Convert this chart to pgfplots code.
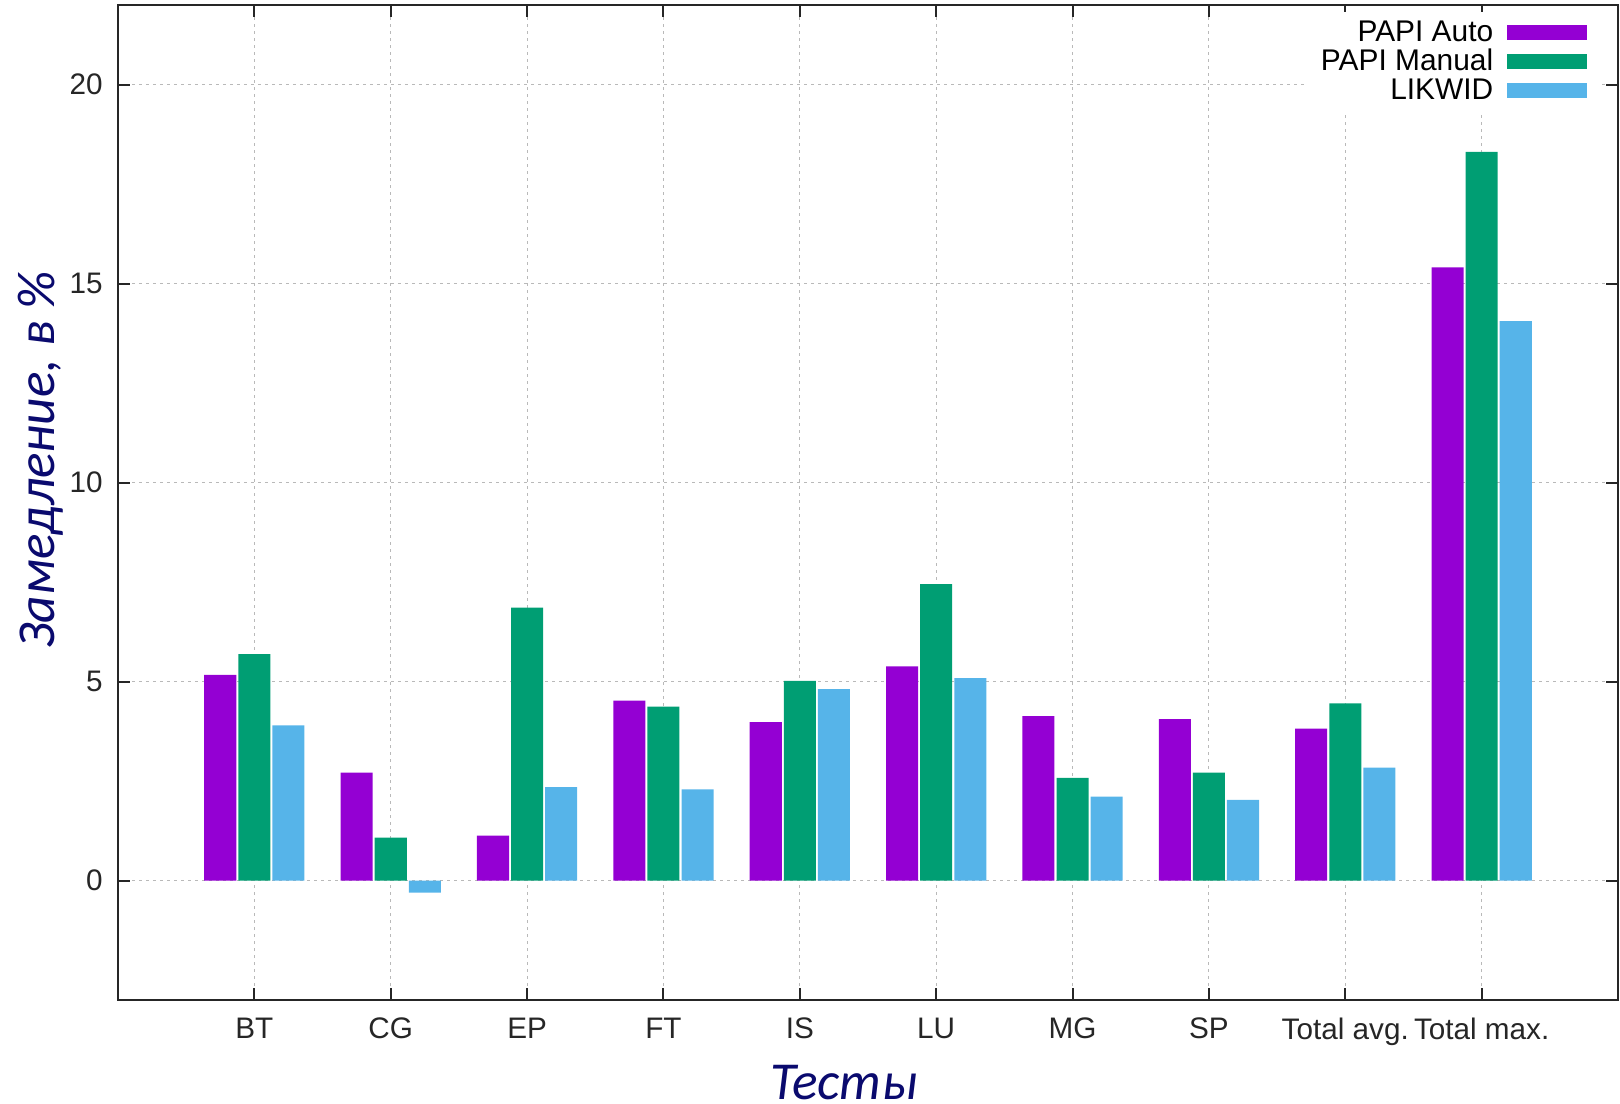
\documentclass[border=0pt]{standalone}
\usepackage{fontspec}
\setmainfont{Liberation Sans}
\newfontfamily\carlito{Carlito}
\usepackage{pgfplots}
\pgfplotsset{compat=1.18}
\definecolor{cA}{HTML}{9400D3}
\definecolor{cB}{HTML}{009E73}
\definecolor{cC}{HTML}{56B4E9}
\definecolor{navy}{RGB}{10,10,110}
\pgfplotsset{
  mybar/.style={ybar, bar width=0.235, draw=none, fill=#1,
    legend image code/.code={\fill[#1] (0bp,-3.75bp) rectangle (40bp,3.75bp);}},
}
\begin{document}
\begin{tikzpicture}
\useasboundingbox (-59bp,-52bp) rectangle (751bp,500bp);
\begin{axis}[
  at={(0,0)}, anchor=south west,
  scale only axis, width=750bp, height=497.5bp,
  xmin=-1, xmax=10, ymin=-3, ymax=22,
  xtick={0,...,9},
  xticklabels={BT,CG,EP,FT,IS,LU,MG,SP,Total avg.,Total max.},
  ytick={0,5,10,15,20},
  tick align=inside, major tick length=6bp,
  axis line style={line width=1bp, black!85},
  tick style={line width=1bp, black!85},
  grid=major,
  major grid style={gray!55, line width=0.5bp, dash pattern=on 1.5bp off 2bp},
  /pgf/number format/assume math mode=true,
  ticklabel style={font=\fontsize{14.9}{17}\selectfont, text=black!85},
  yticklabel style={xshift=-4.2bp},
  xticklabel style={yshift=-5.5bp},
  every axis y label/.style={at={(axis description cs:-0.0515,0.543)}, rotate=90, anchor=center, inner sep=0pt},
  every axis x label/.style={at={(axis description cs:0.484,-0.0830)}, anchor=center, inner sep=0pt},
  ylabel={\carlito\itshape\fontsize{26.8}{30}\selectfont\color{navy}Замедление, в \%},
  xlabel={\carlito\itshape\fontsize{26.8}{30}\selectfont\color{navy}Тесты},
  legend cell align=right,
  legend plot pos=right,
  legend style={at={(rel axis cs:1,1)}, anchor=north east, xshift=-9.5bp, yshift=-3.5bp,
    draw=none, fill=white, inner xsep=6bp, inner ysep=3bp,
    font=\fontsize{15}{16}\selectfont, row sep=0bp, column sep=5.5bp,
    nodes={inner sep=1.2bp}},
]
\addplot[mybar=cA, bar shift=-0.25] coordinates {
  (0,5.17) (1,2.71) (2,1.13) (3,4.52) (4,3.98) (5,5.38) (6,4.13) (7,4.06) (8,3.82) (9,15.41)};
\addlegendentry{PAPI Auto}
\addplot[mybar=cB, bar shift=0] coordinates {
  (0,5.69) (1,1.08) (2,6.86) (3,4.37) (4,5.02) (5,7.45) (6,2.58) (7,2.71) (8,4.45) (9,18.31)};
\addlegendentry{PAPI Manual}
\addplot[mybar=cC, bar shift=0.25] coordinates {
  (0,3.90) (1,-0.30) (2,2.35) (3,2.29) (4,4.81) (5,5.09) (6,2.11) (7,2.03) (8,2.84) (9,14.06)};
\addlegendentry{LIKWID}
\end{axis}
\end{tikzpicture}
\end{document}
